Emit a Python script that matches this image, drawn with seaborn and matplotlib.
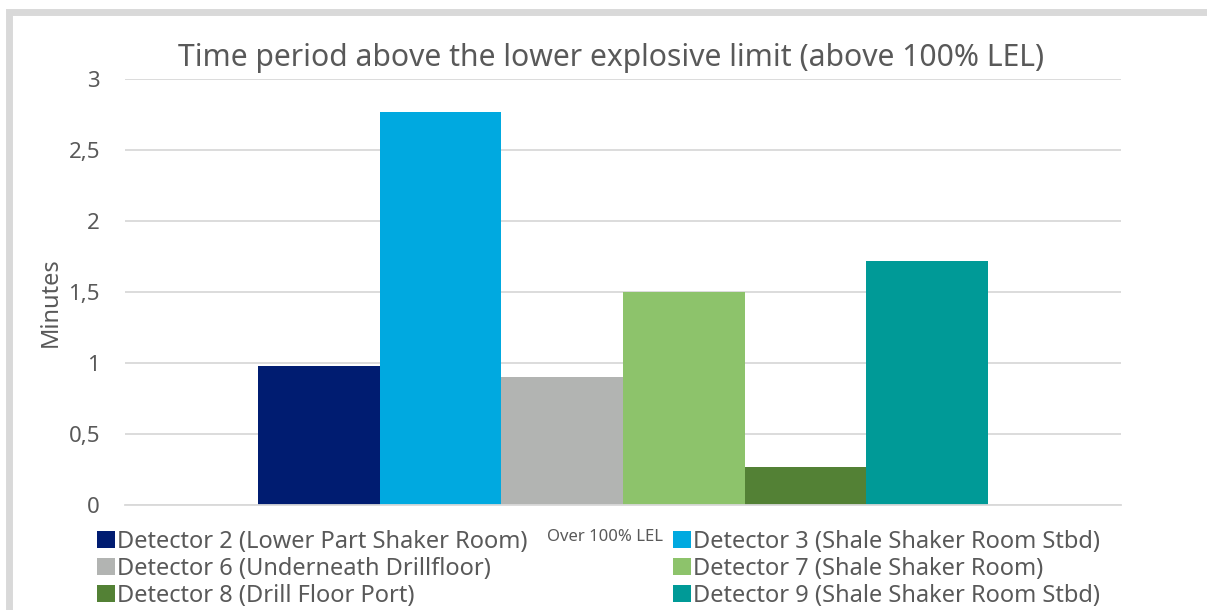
import matplotlib
matplotlib.use("Agg")
import matplotlib.pyplot as plt
import matplotlib.transforms as mtransforms
from matplotlib.patches import Patch, Rectangle
import seaborn as sns
import pandas as pd

# Data
category = "Over 100% LEL"
detectors = [
    "Detector 2 (Lower Part Shaker Room)",
    "Detector 3 (Shale Shaker Room Stbd)",
    "Detector 6 (Underneath Drillfloor)",
    "Detector 7 (Shale Shaker Room)",
    "Detector 8 (Drill Floor Port)",
    "Detector 9 (Shale Shaker Room Stbd)",
]
minutes = [0.98, 2.77, 0.90, 1.50, 0.27, 1.72]
colors = ["#001C71", "#00A9E0", "#B2B4B2", "#8DC36B", "#538135", "#009A97"]
y_ticks = [0, 0.5, 1, 1.5, 2, 2.5, 3]
y_tick_labels = ["0", "0,5", "1", "1,5", "2", "2,5", "3"]
title = "Time period above the lower explosive limit (above 100% LEL)"
y_label = "Minutes"

TEXT = "#595959"
GRID = "#D9D9D9"

sns.set_theme(style="white")
plt.rcParams["font.family"] = ["Noto Sans", "DejaVu Sans"]

df = pd.DataFrame({"cat": [category] * len(detectors),
                   "detector": detectors,
                   "minutes": minutes})

W, H = 1207, 610
fig = plt.figure(figsize=(W / 100, H / 100), dpi=100)
ax = fig.add_axes([125 / W, 1 - 505 / H, (1121 - 125) / W, (505 - 79) / H])

sns.barplot(data=df, x="cat", y="minutes", hue="detector",
            hue_order=detectors, palette=colors, width=0.733, gap=0,
            linewidth=0, saturation=1, legend=False, ax=ax)

ax.set_xlim(-0.5, 0.5)
ax.set_ylim(0, 3)
ax.set_yticks(y_ticks)
ax.set_yticklabels(y_tick_labels)
ax.yaxis.grid(True, color=GRID, linewidth=1.3)
ax.set_axisbelow(True)
for side in ["left", "right", "top"]:
    ax.spines[side].set_visible(False)
ax.spines["bottom"].set_color(GRID)
ax.spines["bottom"].set_linewidth(1.3)
ax.tick_params(axis="y", length=0, pad=18, labelsize=16, labelcolor=TEXT)
ax.tick_params(axis="x", which="major", length=0, pad=17, labelsize=12,
               labelcolor=TEXT)
ax.set_xticks([-0.5, 0.5], minor=True)
ax.tick_params(axis="x", which="minor", length=6, width=1.3, color=GRID,
               direction="out")
ax.set_xlabel("")
ax.set_ylabel("")

# Nudge the category label left so it clears the right legend column
shift = mtransforms.ScaledTranslation(-18 / 100, 0, fig.dpi_scale_trans)
for lbl in ax.get_xticklabels():
    lbl.set_transform(lbl.get_transform() + shift)

fig.text(51 / W, 1 - 302 / H, y_label, rotation=90, ha="center",
         va="center", fontsize=17, color=TEXT)
fig.text(611 / W, 1 - 66 / H, title, ha="center", va="baseline",
         fontsize=21.7, color=TEXT)

# Legend split into two columns placed on either side of the category label
handles = [Patch(facecolor=c, edgecolor="none") for c in colors]
left_idx = [0, 2, 4]
right_idx = [1, 3, 5]
common = dict(frameon=False, fontsize=17, labelcolor=TEXT, borderpad=0,
              handlelength=0.75, handleheight=0.75, handletextpad=0.1,
              labelspacing=0.12, borderaxespad=0, loc="upper left")
fig.legend([handles[i] for i in left_idx], [detectors[i] for i in left_idx],
           bbox_to_anchor=(97 / W, 1 - 530 / H), **common)
fig.legend([handles[i] for i in right_idx], [detectors[i] for i in right_idx],
           bbox_to_anchor=(673 / W, 1 - 530 / H), **common)

# Light grey outer frame of the chart area
fig.add_artist(Rectangle((9 / W, -0.2), 1.3, 1.2 - 12 / H,
                         transform=fig.transFigure, fill=False,
                         edgecolor=GRID, linewidth=5, clip_on=False))

fig.savefig("out.png", dpi=100)
